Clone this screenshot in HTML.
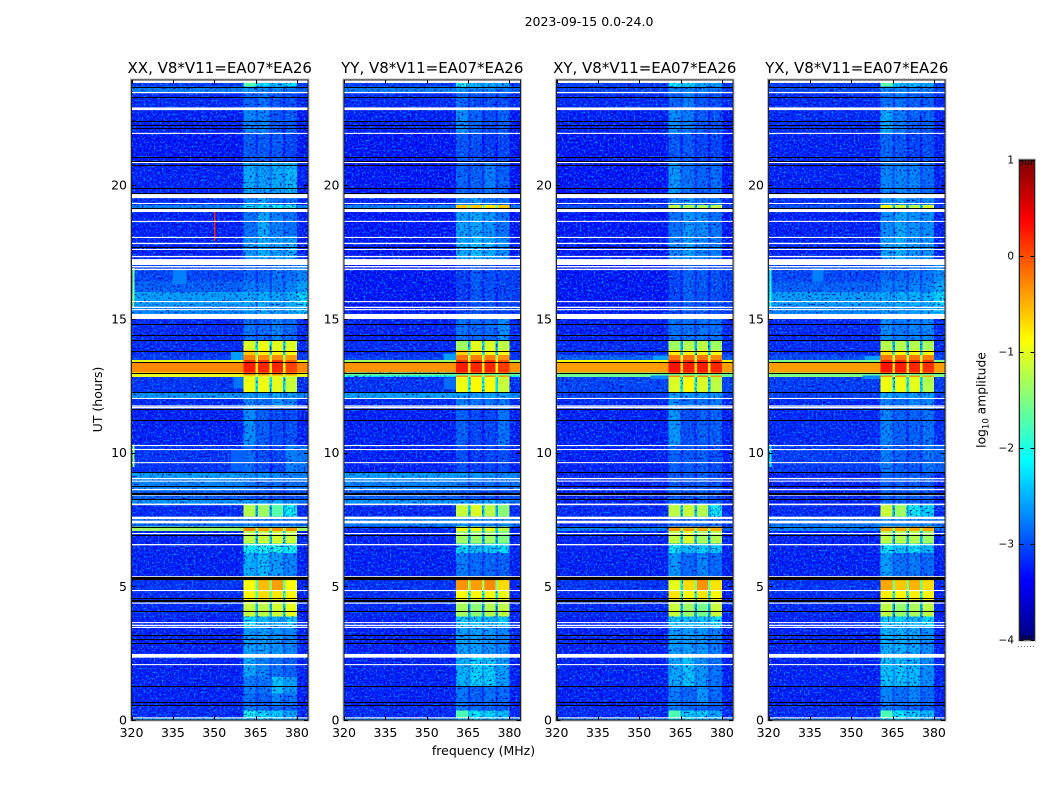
<!DOCTYPE html>
<html lang="en">
<head>
<meta charset="utf-8">
<title>2023-09-15 0.0-24.0</title>
<style>
html,body{margin:0;padding:0;background:#fff;}
svg{display:block;}
text{font-family:"DejaVu Sans","Liberation Sans",sans-serif;fill:#000;}
</style>
</head>
<body>
<svg id="chart" xmlns="http://www.w3.org/2000/svg" width="1050" height="800" viewBox="0 0 1050 800">
  <defs>
    <filter id="noiseDark" x="0" y="0" width="100%" height="100%" color-interpolation-filters="sRGB">
      <feTurbulence type="fractalNoise" baseFrequency="0.5" numOctaves="1" seed="4"/>
      <feColorMatrix type="matrix" values="0 0 0 0 0  0 0 0 0 0  0 0 0 0 0.65  -3.6 0 0 0 1.8"/>
    </filter>
    <filter id="noiseLight" x="0" y="0" width="100%" height="100%" color-interpolation-filters="sRGB">
      <feTurbulence type="fractalNoise" baseFrequency="0.5" numOctaves="1" seed="11"/>
      <feColorMatrix type="matrix" values="0 0 0 0 0  0 0 0 0 0.6  0 0 0 0 1  0 -3.2 0 0 1.6"/>
    </filter>
    <linearGradient id="jetGradient" x1="0" y1="1" x2="0" y2="0"></linearGradient>
  </defs>
  <text x="589" y="26" font-size="12.5" text-anchor="middle">2023-09-15 0.0-24.0</text>
  <text x="483.5" y="755" font-size="12.5" text-anchor="middle">frequency (MHz)</text>
  <text x="0" y="0" font-size="12.5" text-anchor="middle" transform="translate(102,399.5) rotate(-90)">UT (hours)</text>
  <text x="0" y="0" font-size="12.3" text-anchor="middle" transform="translate(985.5,400) rotate(-90)">log<tspan font-size="8.5" dy="3">10</tspan><tspan dy="-3"> amplitude</tspan></text>
  <g id="panels"></g>
  <g id="colorbar"></g>
</svg>
<script>
// ---- chart data ----
var panelTitles = ["XX, V8*V11=EA07*EA26","YY, V8*V11=EA07*EA26","XY, V8*V11=EA07*EA26","YX, V8*V11=EA07*EA26"];
var freqTicks = [320,335,350,365,380];
var hourTicks = [0,5,10,15,20];
var colorbarTicks = [1,0,-1,-2,-3,-4];
var freqEdges = [320,360.6,365,365.8,370,370.9,375,375.9,380,384];

// rows: [fromHour, toHour, background, window1, window2, window3, window4, rightEdge] in log10 amplitude
var rowsXX = [
[23.82,23.68,-2.9,-1.7,-2.0,-2.2,-2.0,-2.9],
[23.68,23.48,-2.55,-2.4,-2.5,-2.5,-2.6,-2.7],
[23.48,22.9,-3.0,-2.7,-2.6,-2.75,-2.8,-3.0],
[22.9,21.95,-3.05,-2.5,-2.5,-2.75,-2.75,-3.1],
[21.95,20.87,-3.1,-2.75,-2.75,-2.75,-2.85,-3.1],
[20.87,19.66,-3.05,-2.3,-2.35,-2.3,-2.2,-3.05],
[19.66,19.25,-3.0,-2.5,-2.3,-2.6,-2.6,-3.0],
[19.25,19.1,-2.5,-1.9,-2.0,-1.9,-1.8,-2.5],
[19.1,18.1,-3.05,-2.6,-2.3,-2.5,-2.6,-3.05],
[18.1,17.23,-3.05,-2.4,-2.25,-2.35,-2.3,-3.05],
[17.23,16.4,-2.85,-2.7,-2.7,-2.6,-2.6,-2.5],
[16.4,16.0,-2.7,-2.55,-2.55,-2.55,-2.5,-2.35],
[16.0,15.5,-2.35,-2.3,-2.25,-2.3,-2.25,-2.05],
[15.5,15.0,-2.5,-2.4,-2.3,-2.35,-2.3,-2.2],
[15.0,14.19,-3.0,-2.6,-2.65,-2.5,-2.65,-3.0],
[14.19,13.83,-3.0,-1.05,-0.95,-1.0,-1.05,-3.0],
[13.83,13.64,-3.0,-0.6,-0.8,-0.85,-0.85,-3.0],
[13.64,13.45,-2.9,-0.25,-0.3,-0.3,-0.4,-2.9],
[13.45,13.37,-1.0,0.1,0.1,0.15,-0.1,-1.0],
[13.37,13.0,-0.3,0.25,0.2,0.2,0.05,-0.3],
[13.0,12.83,-1.0,-0.3,-0.35,-0.3,-0.4,-1.0],
[12.83,12.25,-2.95,-0.95,-0.95,-1.0,-1.15,-2.95],
[12.25,12.04,-2.4,-2.35,-2.35,-2.3,-2.35,-2.5],
[12.04,11.7,-3.0,-2.5,-2.6,-2.4,-2.5,-3.0],
[11.7,10.28,-3.05,-2.45,-2.7,-2.8,-2.8,-3.05],
[10.28,9.26,-2.95,-2.65,-2.8,-2.85,-2.55,-2.6],
[9.26,9.05,-2.35,-2.4,-2.4,-2.45,-2.5,-2.5],
[9.05,8.6,-2.5,-2.6,-2.6,-2.6,-2.6,-2.6],
[8.6,8.26,-2.7,-2.75,-2.75,-2.8,-2.8,-2.8],
[8.26,8.03,-2.4,-2.35,-2.35,-2.3,-2.4,-2.6],
[8.03,7.6,-3.0,-1.25,-1.35,-1.7,-1.9,-3.0],
[7.6,7.23,-2.65,-2.5,-2.6,-2.6,-2.6,-2.7],
[7.23,7.06,-1.35,-0.3,-0.4,-0.35,-0.35,-1.35],
[7.06,6.6,-3.05,-1.2,-1.15,-1.1,-1.15,-3.05],
[6.6,6.25,-3.05,-1.9,-1.85,-1.8,-1.9,-3.05],
[6.25,5.38,-3.05,-2.25,-2.2,-2.35,-2.5,-3.05],
[5.38,4.86,-2.95,-0.9,-0.55,-0.4,-0.9,-3.05],
[4.86,4.45,-3.0,-0.85,-0.7,-0.75,-0.85,-3.05],
[4.45,3.86,-3.0,-1.15,-1.2,-1.1,-1.0,-3.05],
[3.86,3.44,-3.05,-2.0,-2.2,-2.3,-2.1,-3.05],
[3.44,2.47,-3.05,-2.35,-2.35,-2.4,-2.5,-3.05],
[2.47,1.6,-3.05,-2.3,-2.5,-2.6,-2.7,-3.05],
[1.6,1.0,-3.05,-2.55,-2.6,-2.15,-2.35,-3.05],
[1.0,0.56,-3.05,-2.6,-2.7,-2.5,-2.6,-3.05],
[0.56,0.35,-3.0,-2.55,-2.65,-2.7,-2.75,-3.0],
[0.35,0.1,-3.0,-1.8,-2.0,-2.1,-2.3,-3.0],
[0.1,0.0,-2.4,-2.1,-2.1,-2.2,-2.3,-2.6]
];
var rowsYY = [
[23.82,23.68,-2.9,-1.8,-2.2,-2.25,-2.35,-2.9],
[23.68,23.48,-2.55,-2.4,-2.5,-2.5,-2.6,-2.7],
[23.48,22.9,-3.0,-2.65,-2.8,-2.8,-2.8,-3.0],
[22.9,21.95,-3.05,-2.45,-2.7,-2.8,-2.7,-3.1],
[21.95,20.87,-3.1,-2.75,-2.8,-2.9,-2.85,-3.1],
[20.87,19.66,-3.1,-2.7,-2.7,-2.55,-2.7,-3.1],
[19.66,19.25,-3.05,-2.5,-2.4,-2.6,-2.6,-3.05],
[19.25,19.1,-2.5,-0.6,-0.6,-0.75,-0.6,-2.6],
[19.1,18.1,-3.1,-2.35,-2.3,-2.4,-2.6,-3.1],
[18.1,17.23,-3.1,-2.3,-2.2,-2.3,-2.45,-3.1],
[17.23,15.0,-3.1,-2.9,-2.75,-2.8,-2.85,-2.9],
[15.0,14.19,-3.05,-2.6,-2.65,-2.65,-2.45,-3.0],
[14.19,13.83,-3.0,-1.35,-1.0,-1.05,-1.2,-3.0],
[13.83,13.64,-3.0,-0.65,-0.8,-0.9,-0.95,-3.0],
[13.64,13.45,-2.9,-0.2,-0.25,-0.25,-0.35,-2.9],
[13.45,13.37,-1.3,0.1,0.1,0.1,-0.05,-1.3],
[13.37,13.0,-0.35,0.25,0.2,0.2,0.1,-0.35],
[13.0,12.83,-1.9,-0.3,-0.35,-0.35,-0.4,-1.9],
[12.83,12.25,-2.95,-0.95,-0.85,-0.9,-1.15,-2.95],
[12.25,12.04,-2.35,-2.35,-2.35,-2.3,-2.35,-2.5],
[12.04,11.7,-3.0,-2.55,-2.6,-2.6,-2.55,-3.0],
[11.7,10.28,-3.05,-2.7,-2.85,-2.85,-2.6,-3.05],
[10.28,9.26,-3.05,-2.8,-2.9,-2.85,-2.8,-3.05],
[9.26,9.05,-2.35,-2.35,-2.4,-2.45,-2.5,-2.5],
[9.05,8.6,-2.5,-2.55,-2.6,-2.6,-2.6,-2.6],
[8.6,8.26,-2.7,-2.75,-2.75,-2.8,-2.8,-2.8],
[8.26,8.03,-2.4,-2.35,-2.35,-2.3,-2.4,-2.6],
[8.03,7.6,-3.0,-1.15,-1.05,-1.2,-1.45,-3.0],
[7.6,7.23,-2.55,-2.4,-2.5,-2.5,-2.5,-2.6],
[7.23,7.06,-3.0,-0.9,-0.9,-0.95,-1.2,-3.0],
[7.06,6.6,-3.05,-1.35,-1.4,-1.35,-1.5,-3.05],
[6.6,6.25,-3.05,-2.05,-2.2,-2.1,-2.0,-3.05],
[6.25,5.38,-3.05,-2.55,-2.65,-2.65,-2.7,-3.05],
[5.38,4.86,-2.95,-0.35,-0.4,-0.3,-0.7,-3.05],
[4.86,4.45,-3.0,-0.85,-0.85,-0.85,-0.95,-3.05],
[4.45,3.86,-3.0,-1.3,-1.45,-1.25,-1.2,-3.05],
[3.86,3.44,-3.05,-2.1,-2.15,-2.2,-2.1,-3.05],
[3.44,2.47,-3.05,-2.35,-2.35,-2.4,-2.5,-3.05],
[2.47,1.28,-3.05,-2.25,-2.05,-2.1,-2.35,-3.05],
[1.28,0.56,-3.05,-2.6,-2.7,-2.6,-2.65,-3.05],
[0.56,0.35,-3.0,-2.55,-2.65,-2.7,-2.75,-3.0],
[0.35,0.1,-3.0,-1.75,-1.95,-2.05,-2.2,-3.0],
[0.1,0.0,-2.6,-2.1,-2.1,-2.2,-2.3,-2.6]
];
var rowsXY = [
[23.82,23.68,-2.9,-1.9,-2.0,-2.3,-2.35,-2.9],
[23.68,23.48,-2.9,-2.5,-2.5,-2.5,-2.6,-2.9],
[23.48,22.9,-3.0,-2.7,-2.55,-2.75,-2.8,-3.0],
[22.9,21.95,-3.05,-2.45,-2.55,-2.75,-2.8,-3.1],
[21.95,20.87,-3.1,-2.75,-2.75,-2.85,-2.85,-3.1],
[20.87,19.66,-3.1,-2.4,-2.6,-2.7,-2.65,-3.1],
[19.66,19.25,-3.05,-2.5,-2.4,-2.6,-2.6,-3.05],
[19.25,19.1,-2.8,-1.2,-1.3,-1.3,-1.2,-2.9],
[19.1,18.1,-3.1,-2.6,-2.4,-2.45,-2.6,-3.1],
[18.1,17.23,-3.1,-2.5,-2.35,-2.5,-2.55,-3.1],
[17.23,15.0,-3.1,-2.85,-2.7,-2.75,-2.8,-2.9],
[15.0,14.19,-3.05,-2.6,-2.6,-2.6,-2.6,-3.0],
[14.19,13.83,-3.0,-1.35,-1.25,-1.2,-1.35,-3.0],
[13.83,13.64,-3.0,-0.8,-0.85,-0.9,-0.95,-3.0],
[13.64,13.45,-2.7,-0.2,-0.2,-0.2,-0.3,-2.7],
[13.45,13.37,-0.9,0.15,0.15,0.15,0.1,-0.9],
[13.37,13.0,-0.4,0.3,0.25,0.25,0.2,-0.4],
[13.0,12.83,-1.6,-0.3,-0.3,-0.3,-0.35,-1.6],
[12.83,12.25,-2.85,-1.05,-0.9,-1.05,-1.2,-2.85],
[12.25,12.04,-2.9,-2.35,-2.4,-2.4,-2.4,-2.9],
[12.04,11.7,-3.0,-2.45,-2.6,-2.6,-2.55,-3.0],
[11.7,10.28,-3.05,-2.4,-2.8,-2.7,-2.7,-3.05],
[10.28,8.03,-3.05,-2.7,-2.75,-2.7,-2.8,-3.05],
[8.03,7.6,-3.0,-1.2,-1.15,-1.25,-1.9,-3.0],
[7.6,7.23,-3.0,-2.6,-2.6,-2.6,-2.6,-3.0],
[7.23,7.06,-2.5,-0.35,-0.45,-0.45,-0.45,-2.7],
[7.06,6.6,-3.05,-1.2,-1.05,-1.3,-1.25,-3.05],
[6.6,6.25,-3.05,-2.0,-2.2,-2.1,-2.15,-3.05],
[6.25,5.38,-3.05,-2.4,-2.65,-2.5,-2.65,-3.05],
[5.38,4.86,-2.95,-1.0,-0.7,-0.35,-0.75,-3.05],
[4.86,4.45,-3.0,-0.75,-0.85,-0.75,-0.85,-3.05],
[4.45,3.86,-3.0,-1.15,-1.35,-1.55,-1.15,-3.05],
[3.86,3.44,-3.05,-2.1,-2.15,-2.15,-2.0,-3.05],
[3.44,2.47,-3.05,-2.35,-2.35,-2.4,-2.55,-3.05],
[2.47,1.28,-3.05,-2.3,-2.15,-2.4,-2.6,-3.05],
[1.28,0.56,-3.05,-2.55,-2.65,-2.4,-2.65,-3.05],
[0.56,0.35,-3.0,-2.55,-2.65,-2.7,-2.75,-3.0],
[0.35,0.1,-3.0,-1.75,-2.05,-2.1,-2.3,-3.0],
[0.1,0.0,-2.6,-2.1,-2.1,-2.2,-2.3,-2.6]
];
var rowsYX = [
[23.82,23.68,-2.9,-1.7,-2.1,-2.2,-2.3,-2.9],
[23.68,23.48,-2.85,-2.45,-2.5,-2.5,-2.55,-2.85],
[23.48,22.9,-3.0,-2.6,-2.6,-2.7,-2.7,-3.0],
[22.9,21.95,-3.0,-2.3,-2.55,-2.7,-2.7,-3.05],
[21.95,20.87,-3.05,-2.65,-2.75,-2.85,-2.8,-3.05],
[20.87,19.66,-3.05,-2.5,-2.5,-2.5,-2.65,-3.05],
[19.66,19.25,-3.0,-2.45,-2.35,-2.5,-2.5,-3.0],
[19.25,19.1,-2.8,-0.95,-1.2,-1.25,-1.1,-2.9],
[19.1,18.1,-3.05,-2.45,-2.3,-2.4,-2.45,-3.05],
[18.1,17.23,-3.05,-2.35,-2.25,-2.4,-2.4,-3.05],
[17.23,16.4,-2.85,-2.65,-2.65,-2.6,-2.6,-2.45],
[16.4,16.0,-2.7,-2.55,-2.55,-2.5,-2.5,-2.3],
[16.0,15.5,-2.35,-2.3,-2.25,-2.25,-2.25,-2.05],
[15.5,15.0,-2.5,-2.4,-2.35,-2.35,-2.3,-2.2],
[15.0,14.19,-3.0,-2.45,-2.55,-2.5,-2.5,-3.0],
[14.19,13.83,-3.0,-1.25,-1.25,-1.25,-1.3,-3.0],
[13.83,13.64,-3.0,-0.75,-0.85,-0.9,-0.9,-3.0],
[13.64,13.45,-2.8,-0.2,-0.2,-0.2,-0.25,-2.8],
[13.45,13.37,-1.5,0.15,0.15,0.15,0.1,-1.5],
[13.37,13.0,-0.4,0.3,0.25,0.2,0.15,-0.4],
[13.0,12.83,-1.4,-0.35,-0.35,-0.35,-0.45,-1.4],
[12.83,12.25,-2.9,-0.95,-0.95,-1.0,-1.25,-2.9],
[12.25,12.04,-2.9,-2.3,-2.4,-2.35,-2.35,-2.9],
[12.04,11.7,-3.0,-2.5,-2.6,-2.5,-2.5,-3.0],
[11.7,10.28,-3.0,-2.5,-2.7,-2.7,-2.6,-3.0],
[10.28,9.26,-2.9,-2.55,-2.7,-2.75,-2.6,-2.7],
[9.26,8.03,-3.05,-2.7,-2.7,-2.7,-2.75,-3.05],
[8.03,7.6,-3.0,-1.15,-1.35,-1.85,-2.05,-3.0],
[7.6,7.23,-2.6,-2.4,-2.45,-2.5,-2.5,-2.6],
[7.23,7.06,-2.5,-0.45,-0.45,-0.45,-0.45,-2.6],
[7.06,6.6,-3.05,-1.2,-1.25,-1.25,-1.35,-3.05],
[6.6,6.25,-3.05,-1.95,-2.15,-2.0,-2.2,-3.05],
[6.25,5.38,-3.05,-2.35,-2.6,-2.55,-2.65,-3.05],
[5.38,4.86,-2.95,-0.45,-0.6,-0.5,-0.7,-3.05],
[4.86,4.45,-3.0,-0.8,-0.85,-0.8,-0.85,-3.05],
[4.45,3.86,-3.0,-1.2,-1.4,-1.3,-1.2,-3.05],
[3.86,3.44,-3.05,-2.1,-2.05,-2.2,-2.0,-3.05],
[3.44,2.47,-3.05,-2.25,-2.25,-2.3,-2.45,-3.05],
[2.47,1.28,-3.05,-2.15,-2.15,-2.2,-2.45,-3.05],
[1.28,0.56,-3.05,-2.5,-2.6,-2.5,-2.65,-3.05],
[0.56,0.35,-3.0,-2.55,-2.65,-2.7,-2.75,-3.0],
[0.35,0.1,-3.0,-1.75,-1.95,-2.05,-2.2,-3.0],
[0.1,0.0,-2.6,-2.1,-2.1,-2.2,-2.3,-2.6]
];
var panelRows = [rowsXX,rowsYY,rowsXY,rowsYX];

// patches: [panelIndex, fromMHz, toMHz, fromHour, toHour, log10 amplitude]
var patches = [
[0,320.3,321,15.4,16.9,-1.5],[0,335,340,16.3,16.85,-2.55],[0,356,360.6,9.3,10.1,-2.7],[0,320.4,321,9.45,10.3,-1.4],
[0,350,350.5,17.9,19.1,0.2],[0,320,384,7.18,7.23,-1.4],[0,356,360.6,13.45,13.75,-2.4],[0,357,360.6,12.4,12.83,-2.6],
[1,356,360.6,13.45,13.7,-2.4],[1,356,360.6,12.35,12.8,-2.65],[1,357,360.6,5.25,5.38,-2.1],
[2,355,360.6,13.45,13.6,-2.4],[2,354,360.6,12.75,12.9,-2.5],[2,356,360.6,5.25,5.38,-2.3],
[3,336,340,16.4,16.9,-2.55],[3,320.3,321,15.4,16.9,-1.8],[3,355,360.6,13.45,13.6,-2.4],[3,354,360.6,12.75,12.9,-2.5],[3,320.3,321,9.45,10.3,-2.0],
[0,320,384,12.83,12.88,-1.0],[1,320,384,12.88,12.93,-1.6],[2,320,384,12.88,12.93,-1.6],[3,320,384,12.88,12.93,-1.6]
];
// thin stripes across the out-of-window band: [fromHour, toHour, level]
var bandStripes = [[13.26,13.31,-0.6],[13.12,13.18,-0.1],[13.04,13.09,-0.65]];
// thin stripes inside the spectral windows: [fromHour, toHour, level]
var windowStripes = [[14.0,14.05,-0.7],[12.63,12.68,-0.55],[12.47,12.52,-0.7]];

// flagged (no-data) time ranges in hours: [from, to]
var whiteBands = [[23.93,23.82],[23.48,23.43],[22.9,22.8],[21.95,21.91],[20.87,20.82],[19.66,19.51],[19.33,19.29],[19.1,18.99],[18.66,18.62],[18.06,18.02],[17.84,17.79],[17.61,17.57],[17.35,17.3],[17.23,17.01],[16.97,16.92],[16.87,16.82],[15.66,15.62],[15.45,15.4],[15.36,15.32],[15.18,14.99],[12.04,12.0],[11.76,11.71],[11.7,11.65],[10.28,10.24],[10.13,10.09],[9.64,9.6],[9.05,9.0],[8.95,8.91],[8.64,8.59],[8.43,8.39],[8.09,8.03],[7.6,7.51],[7.45,7.35],[6.99,6.95],[6.58,6.53],[5.38,5.34],[4.86,4.82],[4.39,4.35],[3.66,3.62],[3.56,3.51],[3.48,3.44],[2.47,2.33],[2.09,2.05],[0.1,0.06]];
// bad-scan black lines, hours
var blackLines = [23.68,23.3,22.38,22.25,22.12,21.06,20.9,20.75,19.88,19.71,19.15,17.68,14.79,14.38,14.19,13.78,13.37,12.96,12.25,11.61,11.23,9.26,8.75,8.5,8.44,8.26,7.23,6.92,4.55,4.5,4.44,4.06,3.17,3.02,2.87,1.28,0.66,0.56];
var blackBands = [[5.35,5.23]];

// ---- drawing ----
var NS = "http://www.w3.org/2000/svg";
var panelLeft = [131.5,344,556.5,768.5];
var panelWidth = 176.5, plotTop = 80, plotBottom = 720;
var faintBias = -0.2;
function xScale(p,f){ return panelLeft[p] + (f-320)/64*panelWidth; }
function yScale(h){ return plotBottom - h*26.75; }
function cbY(v){ return 160 + (1-v)/5*480; }
function clamp(v){ return Math.max(0,Math.min(1,v)); }
function jet(v){
  var t = clamp((v+4)/5);
  var r = clamp(1.5-Math.abs(4*t-3)), g = clamp(1.5-Math.abs(4*t-2)), b = clamp(1.5-Math.abs(4*t-1));
  return "rgb("+Math.round(r*255)+","+Math.round(g*255)+","+Math.round(b*255)+")";
}
function mk(tag,parent,attrs){
  var el = document.createElementNS(NS,tag);
  for(var k in attrs){ el.setAttribute(k,attrs[k]); }
  parent.appendChild(el);
  return el;
}
function cellLevels(row){
  var gap = function(a,b){ var m=(a+b)/2; return m>-1.8 ? Math.max(-2.3,m-1.0) : m-0.25; };
  return [row[2],row[3],gap(row[3],row[4]),row[4],gap(row[4],row[5]),row[5],gap(row[5],row[6]),row[6],row[7]];
}
function drawCell(parent,p,f0,f1,hTop,hBottom,v){
  var x0=xScale(p,f0), x1=xScale(p,f1), y0=yScale(hTop), y1=yScale(hBottom);
  var shown = v<=-1.8 ? v+faintBias : v;
  var r = mk("rect",parent,{x:x0,y:y0,width:x1-x0,height:y1-y0,fill:jet(shown),"shape-rendering":"crispEdges"});
  
  
}
var panelsG = document.getElementById("panels");
panelTitles.forEach(function(title,p){
  var g = mk("g",panelsG,{});
  
  
  var x0 = panelLeft[p], x1 = x0+panelWidth;
  var clipId = "clip"+p;
  var defs = document.querySelector("defs");
  var cp = mk("clipPath",defs,{id:clipId});
  mk("rect",cp,{x:x0,y:plotTop,width:panelWidth,height:plotBottom-plotTop});
  var quiet = mk("g",g,{"clip-path":"url(#"+clipId+")"});
  
  
  var bright = mk("g",g,{"clip-path":"url(#"+clipId+")"});
  
  
  panelRows[p].forEach(function(row){
    var lv = cellLevels(row);
    lv.forEach(function(v,i){
      if(v<=-1.8){ drawCell(quiet,p,freqEdges[i],freqEdges[i+1],row[0],row[1],v); }
    });
  });
  // noise texture goes above quiet cells, below bright ones
  var n1 = mk("rect",g,{x:x0,y:plotTop,width:panelWidth,height:plotBottom-plotTop,filter:"url(#noiseDark)"});
  
  
  var n2 = mk("rect",g,{x:x0,y:plotTop,width:panelWidth,height:plotBottom-plotTop,filter:"url(#noiseLight)"});
  
  
  g.appendChild(bright);
  panelRows[p].forEach(function(row){
    var lv = cellLevels(row);
    lv.forEach(function(v,i){
      if(v>-1.8){ drawCell(bright,p,freqEdges[i],freqEdges[i+1],row[0],row[1],v); }
    });
  });
  patches.forEach(function(pt){
    if(pt[0]===p){ drawCell(bright,p,pt[1],pt[2],pt[4],pt[3],pt[5]); }
  });
  bandStripes.forEach(function(s){
    drawCell(bright,p,freqEdges[0],freqEdges[1],s[0],s[1],s[2]);
    drawCell(bright,p,freqEdges[8],freqEdges[9],s[0],s[1],s[2]);
  });
  windowStripes.forEach(function(s){
    [1,3,5,7].forEach(function(i){
      drawCell(bright,p,freqEdges[i],freqEdges[i+1],s[0],s[1],s[2]);
    });
  });
  whiteBands.forEach(function(b){
    var r = mk("rect",g,{x:x0,y:yScale(b[0]),width:panelWidth,height:yScale(b[1])-yScale(b[0]),fill:"#fff"});
    
    
  });
  blackLines.forEach(function(h){
    var r = mk("rect",g,{x:x0,y:Math.round(yScale(h)),width:panelWidth,height:1,fill:"#000"});
    
    
  });
  blackBands.forEach(function(b){
    var r = mk("rect",g,{x:x0,y:yScale(b[0]),width:panelWidth,height:yScale(b[1])-yScale(b[0]),fill:"#000"});
    
    
  });
  // frame
  var fo = mk("rect",g,{x:x0-1,y:plotTop-1,width:panelWidth+2,height:plotBottom-plotTop+2,fill:"none",stroke:"#b8b8b8","stroke-width":1});
  
  
  var fi = mk("rect",g,{x:x0,y:plotTop,width:panelWidth,height:plotBottom-plotTop,fill:"none",stroke:"#222","stroke-width":1});
  
  
  // x ticks
  freqTicks.forEach(function(f){
    var x = Math.round(xScale(p,f))+0.5;
    var t1 = mk("line",g,{x1:x,x2:x,y1:plotBottom,y2:plotBottom-4,stroke:"#000","stroke-width":1});
    
    
    var t2 = mk("line",g,{x1:x,x2:x,y1:plotTop,y2:plotTop+4,stroke:"#000","stroke-width":1});
    
    
    var lab = mk("text",g,{x:xScale(p,f),y:737,"font-size":12.5,"text-anchor":"middle"});
    lab.textContent = f;
    
    
  });
  // y ticks
  hourTicks.forEach(function(h){
    var y = Math.round(yScale(h))+0.5;
    var t1 = mk("line",g,{x1:x0,x2:x0+4,y1:y,y2:y,stroke:"#000","stroke-width":1});
    
    
    var t2 = mk("line",g,{x1:x1,x2:x1-4,y1:y,y2:y,stroke:"#000","stroke-width":1});
    
    
    var lab = mk("text",g,{x:x0-4.5,y:yScale(h)+4.5,"font-size":12.5,"text-anchor":"end"});
    lab.textContent = h;
    
    
  });
  var tt = mk("text",g,{x:x0+panelWidth/2,y:73,"font-size":15,"text-anchor":"middle"});
  tt.textContent = title;
  
  
});

// colorbar
var grad = document.getElementById("jetGradient");
for(var i=0;i<=32;i++){
  var stop = mk("stop",grad,{offset:(i/32),"stop-color":jet(-4+5*i/32)});
}
var cb = document.getElementById("colorbar");
var cbRect = mk("rect",cb,{x:1019.5,y:160,width:15,height:480,fill:"url(#jetGradient)",stroke:"#222","stroke-width":1});


var cbOuter = mk("rect",cb,{x:1018.5,y:159,width:17,height:482,fill:"none",stroke:"#b8b8b8","stroke-width":1});


colorbarTicks.forEach(function(v){
  var y = Math.round(cbY(v))+0.5;
  var a = mk("line",cb,{x1:1019.5,x2:1023.5,y1:y,y2:y,stroke:"#000","stroke-width":1});
  
  
  var b = mk("line",cb,{x1:1034.5,x2:1030.5,y1:y,y2:y,stroke:"#000","stroke-width":1});
  
  
  var lab = mk("text",cb,{x:1014,y:cbY(v)+3.5,"font-size":10.5,"text-anchor":"end"});
  lab.textContent = v<0 ? "\u2212"+Math.abs(v) : String(v);
  
  
});
[1022.5,1025.5,1028.5,1031.5].forEach(function(x){
  var a = mk("line",cb,{x1:x,x2:x,y1:160,y2:165,stroke:"#000","stroke-width":1});
  
  
  var b = mk("line",cb,{x1:x,x2:x,y1:640,y2:635,stroke:"#000","stroke-width":1});
  
  
});
[1018,1021,1024,1027,1030,1033].forEach(function(x){
  var d = mk("rect",cb,{x:x,y:646,width:1,height:1,fill:"#777"});
  
  
});
</script>
</body>
</html>
